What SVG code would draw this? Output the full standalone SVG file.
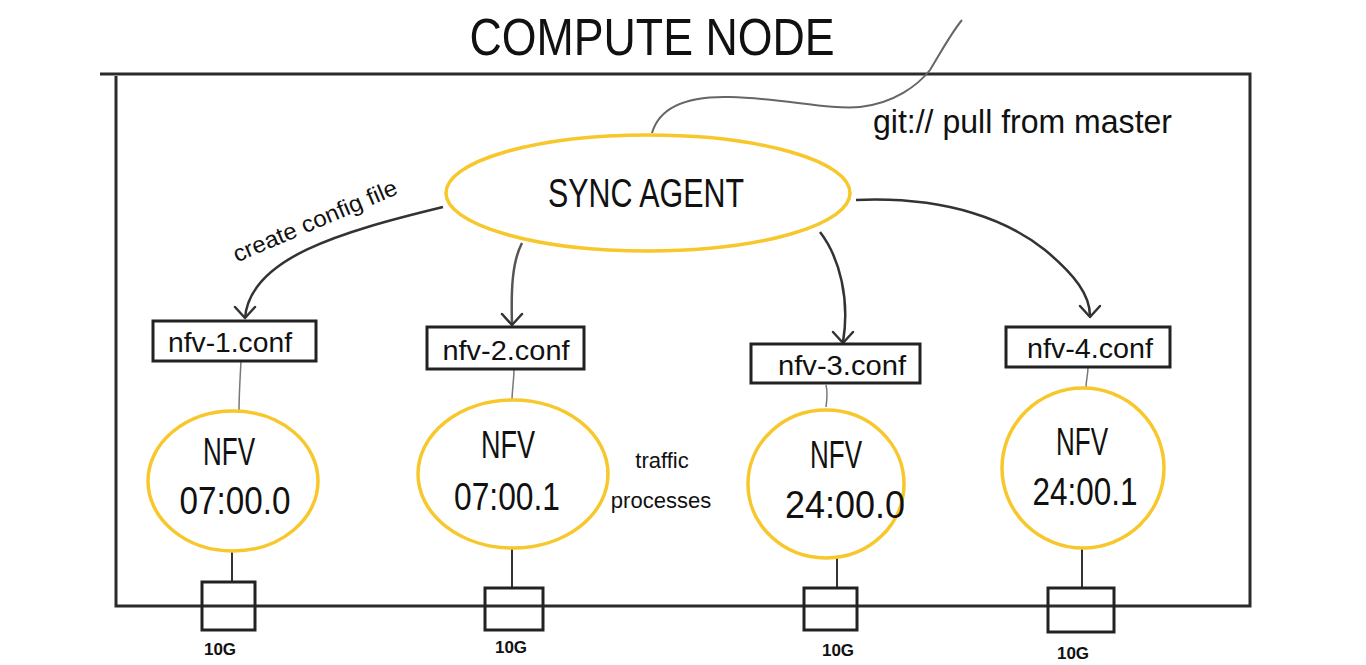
<svg xmlns="http://www.w3.org/2000/svg" width="1366" height="665" viewBox="0 0 1366 665">
<defs>
<style>
text{font-family:"Liberation Sans",Arial,sans-serif;fill:#111;}
.frame{fill:none;stroke:#2b2b2b;stroke-width:3;}
.conn{fill:none;stroke:#333;stroke-width:2.5;}
.thin{fill:none;stroke:#777;stroke-width:1.5;}
.yel{fill:#fff;stroke:#F7C72C;stroke-width:3.5;}
.box{fill:#fff;stroke:#222;stroke-width:3;}
.head{fill:none;stroke:#333;stroke-width:2.5;stroke-linecap:round;stroke-linejoin:round;}
.conf{font-size:28px;}
.nfv{font-size:38px;}
.port{font-size:17px;font-weight:bold;}
</style>
</defs>
<rect width="1366" height="665" fill="#fff"/>
<g id="frame">
<path class="frame" d="M100,74 L1250,74 L1250,606 L116,606 L116,76"/>
</g>
<g id="title"><text x="652" y="55" font-size="52" text-anchor="middle" textLength="365" lengthAdjust="spacingAndGlyphs">COMPUTE NODE</text></g>
<g id="connectors">
<path class="thin" d="M652,133 C660,105 690,96 730,97 C780,98 830,110 860,107 C895,103 918,85 930,70 C945,45 952,32 962,20" style="stroke:#666;stroke-width:2"/>
<path class="conn" d="M443,207 C340,232 250,258 245,318"/>
<path class="head" d="M235,307 L245,318 L255,307"/>
<path class="conn" d="M522,243 C512,262 511,290 512,325" style="stroke:#555"/>
<path class="head" d="M502,314 L512,325 L522,314"/>
<path class="conn" d="M820,232 C840,258 850,300 843,342"/>
<path class="head" d="M833,332 L843,343 L853,332"/>
<path class="conn" d="M856,200 C950,196 1010,222 1045,250 C1075,275 1090,295 1090,316"/>
<path class="head" d="M1080,306 L1090,317 L1100,306"/>
<path class="thin" d="M241,361 C240,380 239,395 239,411"/>
<path class="thin" d="M514,369 C514,380 512,390 512,401"/>
<path class="thin" d="M826,385 C828,393 827,400 826,407"/>
<path class="thin" d="M1088,367 C1088,375 1086,380 1086,388"/>
<path class="conn" d="M232,551 L232,582" style="stroke-width:2"/>
<path class="conn" d="M512,548 L512,588" style="stroke-width:2"/>
<path class="conn" d="M837,558 L837,588" style="stroke-width:2"/>
<path class="conn" d="M1082,548 L1082,588" style="stroke-width:2"/>
</g>
<g id="labels">
<text x="873" y="133" font-size="34" textLength="299" lengthAdjust="spacingAndGlyphs">git:// pull from master</text>
<text transform="translate(318,228) rotate(-23)" font-size="23" text-anchor="middle" textLength="176" lengthAdjust="spacingAndGlyphs">create config file</text>
<text x="662" y="468" font-size="22" text-anchor="middle">traffic</text>
<text x="661" y="508" font-size="22" text-anchor="middle">processes</text>
</g>
<g id="sync-agent">
<ellipse class="yel" cx="648" cy="193" rx="202" ry="58"/>
<text x="646" y="207" font-size="40" text-anchor="middle" textLength="196" lengthAdjust="spacingAndGlyphs">SYNC AGENT</text>
</g>
<g id="nfv-1-conf"><rect class="box" x="153" y="321" width="163" height="40"/><text class="conf" x="230" y="352" text-anchor="middle" textLength="124" lengthAdjust="spacingAndGlyphs">nfv-1.conf</text></g>
<g id="nfv-2-conf"><rect class="box" x="427" y="327" width="157" height="42"/><text class="conf" x="506" y="360" text-anchor="middle" textLength="127" lengthAdjust="spacingAndGlyphs">nfv-2.conf</text></g>
<g id="nfv-3-conf"><rect class="box" x="751" y="344" width="169" height="39"/><text class="conf" x="842" y="375" text-anchor="middle" textLength="128" lengthAdjust="spacingAndGlyphs">nfv-3.conf</text></g>
<g id="nfv-4-conf"><rect class="box" x="1006" y="327" width="164" height="40"/><text class="conf" x="1090" y="358" text-anchor="middle" textLength="126" lengthAdjust="spacingAndGlyphs">nfv-4.conf</text></g>
<g id="nfv-1"><ellipse class="yel" cx="233" cy="481" rx="85" ry="70"/><text class="nfv" x="229" y="465" text-anchor="middle" textLength="52" lengthAdjust="spacingAndGlyphs">NFV</text><text class="nfv" x="235" y="514" text-anchor="middle" textLength="111" lengthAdjust="spacingAndGlyphs">07:00.0</text></g>
<g id="nfv-2"><ellipse class="yel" cx="513" cy="474" rx="95" ry="74"/><text class="nfv" x="508" y="458" text-anchor="middle" textLength="54" lengthAdjust="spacingAndGlyphs">NFV</text><text class="nfv" x="507" y="510" text-anchor="middle" textLength="106" lengthAdjust="spacingAndGlyphs">07:00.1</text></g>
<g id="nfv-3"><ellipse class="yel" cx="826" cy="484" rx="78" ry="74"/><text class="nfv" x="836" y="468" text-anchor="middle" textLength="52" lengthAdjust="spacingAndGlyphs">NFV</text><text class="nfv" x="845" y="518" text-anchor="middle" textLength="120" lengthAdjust="spacingAndGlyphs">24:00.0</text></g>
<g id="nfv-4"><ellipse class="yel" cx="1083" cy="468" rx="81" ry="80"/><text class="nfv" x="1082" y="455" text-anchor="middle" textLength="52" lengthAdjust="spacingAndGlyphs">NFV</text><text class="nfv" x="1085" y="505" text-anchor="middle" textLength="105" lengthAdjust="spacingAndGlyphs">24:00.1</text></g>
<g id="port-1"><rect class="box" x="202" y="582" width="53" height="48" style="fill:none"/><text class="port" x="220" y="655" text-anchor="middle">10G</text></g>
<g id="port-2"><rect class="box" x="485" y="588" width="58" height="42" style="fill:none"/><text class="port" x="511" y="653" text-anchor="middle">10G</text></g>
<g id="port-3"><rect class="box" x="804" y="588" width="53" height="42" style="fill:none"/><text class="port" x="838" y="656" text-anchor="middle">10G</text></g>
<g id="port-4"><rect class="box" x="1048" y="588" width="66" height="44" style="fill:none"/><text class="port" x="1073" y="659" text-anchor="middle">10G</text></g>
</svg>
